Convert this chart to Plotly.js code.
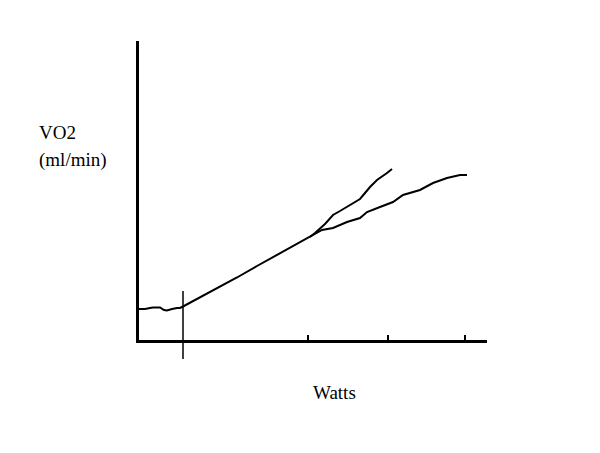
<!DOCTYPE html>
<html>
<head>
<meta charset="utf-8">
<script src="https://cdn.plot.ly/plotly-3.0.1.min.js"></script>
<style>html,body{margin:0;padding:0;background:#fff;}#chart{width:600px;height:453px;}</style>
</head>
<body>
<div id="chart"></div>
<script>
// Main curve: baseline, linear rise, then the lower (flattening) branch
const mainX = [1, 8, 13, 16, 23, 25, 27, 30, 33, 35, 40, 43, 46, 60, 80, 100, 120, 140, 160, 173, 185, 196, 210, 223, 230, 243, 256, 266, 273, 283, 296, 310, 323, 330];
const mainY = [33, 33, 34, 34.5, 34.5, 33.5, 32, 31.5, 32, 33, 34, 34, 35.5, 43, 54, 64.5, 76, 87, 98, 105, 112, 114, 120, 124, 130, 135, 140, 147, 149, 152, 159, 164, 167, 167];
// Upper (steeper) branch starting at the split point
const upperX = [173, 178, 188, 196, 203, 213, 223, 228, 233, 240, 246, 250, 255];
const upperY = [105, 109, 118, 127, 131, 137, 143, 149, 155, 162, 166, 169, 173];
// Threshold marker and axis tick positions
const thresholdX = 46;
const tickPositions = [171, 251, 328];

const traces = [
  {x: mainX, y: mainY, mode: 'lines', line: {color: '#000', width: 2}, hoverinfo: 'skip'},
  {x: upperX, y: upperY, mode: 'lines', line: {color: '#000', width: 2}, hoverinfo: 'skip'}
];

const serif = 'Liberation Serif, Times New Roman, serif';
const layout = {
  width: 600, height: 453,
  margin: {l: 139, r: 113, t: 41, b: 113},
  paper_bgcolor: '#fff', plot_bgcolor: '#fff',
  showlegend: false,
  xaxis: {range: [2, 350], showgrid: false, zeroline: false, showline: true, linecolor: '#000', linewidth: 3,
          tickvals: tickPositions, ticks: 'inside', ticklen: 5, tickwidth: 1.5, tickcolor: '#000', showticklabels: false, fixedrange: true},
  yaxis: {range: [2, 301], showgrid: false, zeroline: false, showline: true, linecolor: '#000', linewidth: 3,
          ticks: '', showticklabels: false, fixedrange: true},
  shapes: [
    {type: 'line', xref: 'x', yref: 'paper', x0: thresholdX, x1: thresholdX, y0: -0.0635, y1: 0.164, line: {color: '#000', width: 1.5}}
  ],
  annotations: [
    {text: 'VO2', xref: 'paper', yref: 'paper', x: -0.293, y: 0.695, xanchor: 'left', yanchor: 'middle', align: 'left', showarrow: false,
     font: {family: serif, size: 19, color: '#000'}},
    {text: '(ml/min)', xref: 'paper', yref: 'paper', x: -0.293, y: 0.602, xanchor: 'left', yanchor: 'middle', align: 'left', showarrow: false,
     font: {family: serif, size: 19, color: '#000'}},
    {text: 'Watts', xref: 'paper', yref: 'paper', x: 0.563, y: -0.175, xanchor: 'center', yanchor: 'middle', showarrow: false,
     font: {family: serif, size: 19, color: '#000'}}
  ]
};

Plotly.newPlot('chart', traces, layout, {displayModeBar: false, staticPlot: true});
</script>
</body>
</html>
